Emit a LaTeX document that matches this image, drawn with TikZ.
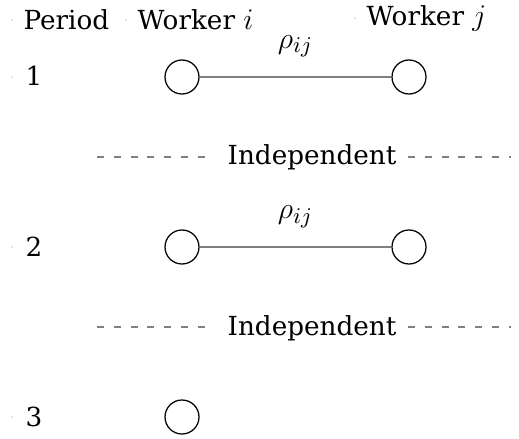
\documentclass[tikz,border=0pt]{standalone}
\usepackage{fontspec}
\setmainfont{DejaVu Serif}
\begin{document}
\begin{tikzpicture}[x=0.4pt,y=-0.4pt,
  worker/.style={circle,draw=black,line width=0.5pt,minimum size=13.6pt,inner sep=0pt},
  link/.style={draw=black!50,line width=0.7pt},
  indep/.style={draw=black!50,line width=0.5pt,dash pattern=on 2.8pt off 3.9pt},
  txt/.style={anchor=base west,inner sep=0pt,font=\fontsize{10.5}{12}\selectfont},
  rho/.style={inner sep=0pt,font=\fontsize{13}{15}\selectfont},
  tick/.style={fill=black!45,draw=none,circle,inner sep=0pt,minimum size=0.5pt}]
\useasboundingbox (0,0) rectangle (519,439);
% tiny marks
\node[tick] (d0) at (12,20) {};
\node[tick] (d1) at (126,20) {};
\node[tick] (d2) at (355,18) {};
\node[tick] (d3) at (12,77) {};
\node[tick] (d4) at (12,247) {};
\node[tick] (d5) at (12,417) {};
% headers
\node[txt] (hp) at (23,30) {Period};
\node[txt] (hi) at (137,30) {Worker \fontsize{12}{14}\selectfont$i$};
\node[txt] (hj) at (366,26) {Worker \fontsize{12}{14}\selectfont$j$};
\node[txt] (p1) at (25,86) {1};
\node[txt] (p2) at (25,256) {2};
\node[txt] (p3) at (25,426) {3};
% workers
\node[worker] (i1) at (182,77) {};
\node[worker] (j1) at (409,77) {};
\node[worker] (i2) at (182,247) {};
\node[worker] (j2) at (409,247) {};
\node[worker] (i3) at (182,417) {};
\draw[link] (i1) -- node[rho,above=7.5pt]{$\rho_{ij}$} (j1);
\draw[link] (i2) -- node[rho,above=7.5pt]{$\rho_{ij}$} (j2);
% independent lines
\node[txt,anchor=base] (ind1) at (312,165) {Independent};
\node[txt,anchor=base] (ind2) at (312,335) {Independent};
\coordinate (l1) at (97,157);
\coordinate (m1) at (211,157);
\coordinate (n1) at (408,157);
\coordinate (r1) at (511,157);
\coordinate (l2) at (97,327);
\coordinate (m2) at (211,327);
\coordinate (n2) at (408,327);
\coordinate (r2) at (511,327);
\draw[indep] (l1) -- (m1);
\draw[indep] (n1) -- (r1);
\draw[indep] (l2) -- (m2);
\draw[indep] (n2) -- (r2);
\end{tikzpicture}
\end{document}
